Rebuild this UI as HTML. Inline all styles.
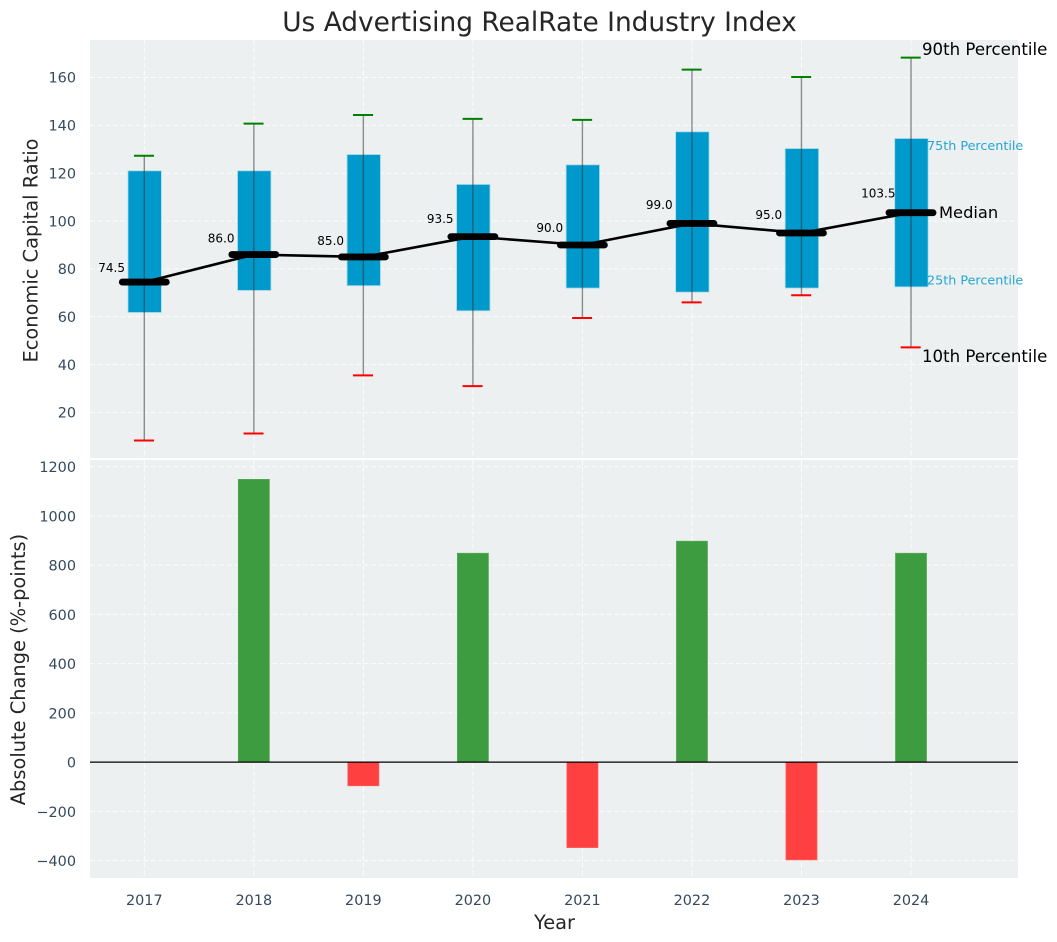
<!DOCTYPE html>
<html>
<head>
<meta charset="utf-8">
<title>Us Advertising RealRate Industry Index</title>
<style>
html,body{margin:0;padding:0;background:#fff;}
svg{display:block;font-family:"DejaVu Sans","Liberation Sans",sans-serif;}
</style>
</head>
<body>
<svg id="chart" width="1057" height="942" viewBox="0 0 1057 942" xmlns="http://www.w3.org/2000/svg">
  <rect x="90" y="40" width="928" height="418" fill="#ecf0f1"/>
  <rect x="90" y="460" width="928" height="418" fill="#ecf0f1"/>
  <g id="grid"></g>
  <g id="marks-bottom"></g>
  <g id="marks-top"></g>
  <g id="labels"></g>
  <text x="539.5" y="31" font-size="26.4px" fill="#262626" text-anchor="middle">Us Advertising RealRate Industry Index</text>
  <text transform="translate(37.5,250.5) rotate(-90)" font-size="19.4px" fill="#262626" text-anchor="middle">Economic Capital Ratio</text>
  <text transform="translate(25,669.5) rotate(-90)" font-size="19.4px" fill="#262626" text-anchor="middle">Absolute Change (%-points)</text>
  <text x="554.5" y="929" font-size="19.4px" fill="#262626" text-anchor="middle">Year</text>
  <text x="922" y="55" font-size="16.6px" fill="#000">90th Percentile</text>
  <text x="927" y="150" font-size="12.75px" fill="#0099cc" fill-opacity="0.85">75th Percentile</text>
  <text x="939" y="218" font-size="16.3px" fill="#000">Median</text>
  <text x="927" y="284.5" font-size="12.75px" fill="#0099cc" fill-opacity="0.85">25th Percentile</text>
  <text x="922" y="362" font-size="16.6px" fill="#000">10th Percentile</text>
</svg>
<script>
const years = [2017, 2018, 2019, 2020, 2021, 2022, 2023, 2024];
const p90 = [127.3, 140.7, 144.3, 142.7, 142.3, 163.3, 160.2, 168.3];
const p75 = [121, 121, 127.8, 115.3, 123.5, 137.3, 130.3, 134.5];
const medians = [74.5, 86, 85, 93.5, 90, 99, 95, 103.5];
const p25 = [61.8, 71, 73, 62.5, 72, 70.3, 72, 72.5];
const p10 = [8.3, 11.2, 35.5, 31, 59.5, 66, 69, 47.2];
const changes = [0, 1148, -96, 848, -347, 897, -397, 848];
const topTicks = [20, 40, 60, 80, 100, 120, 140, 160];
const bottomTicks = [-400, -200, 0, 200, 400, 600, 800, 1000, 1200];

const NS = 'http://www.w3.org/2000/svg';
const xScale = function (year) { return 144.3 + (year - 2017) * 109.53; };
const yTop = function (v) { return 412.5 - (v - 20) * 2.393; };
const yBottom = function (v) { return 762.1 - v * 0.24625; };

function make(parent, tag, attrs, name) {
  const el = document.createElementNS(NS, tag);
  for (const k in attrs) el.setAttribute(k, attrs[k]);
  
  
  parent.appendChild(el);
  return el;
}

const grid = document.getElementById('grid');
const marksTop = document.getElementById('marks-top');
const marksBottom = document.getElementById('marks-bottom');
const labels = document.getElementById('labels');
const gridStyle = { stroke: '#ffffff', 'stroke-width': 1, 'stroke-dasharray': '5 2.6', 'stroke-opacity': 0.85 };

topTicks.forEach(function (t) {
  const y = yTop(t);
  make(grid, 'line', Object.assign({ x1: 90, x2: 1018, y1: y, y2: y }, gridStyle), 'top-grid-line-' + t);
  const tx = make(labels, 'text', { x: 76, y: y + 5.2, 'font-size': '14.4px', fill: '#34495e', 'text-anchor': 'end' }, 'top-y-tick-' + t);
  tx.textContent = String(t);
});

bottomTicks.forEach(function (t) {
  const y = yBottom(t);
  make(grid, 'line', Object.assign({ x1: 90, x2: 1018, y1: y, y2: y }, gridStyle), 'bottom-grid-line-' + t);
  const tx = make(labels, 'text', { x: 76, y: y + 5.6, 'font-size': '14.4px', fill: '#34495e', 'text-anchor': 'end' }, 'bottom-y-tick-' + t);
  tx.textContent = String(t).replace('-', '\u2212');
});

years.forEach(function (yr) {
  const x = xScale(yr);
  make(grid, 'line', Object.assign({ x1: x, x2: x, y1: 40, y2: 458 }, gridStyle), 'top-grid-vertical-' + yr);
  make(grid, 'line', Object.assign({ x1: x, x2: x, y1: 460, y2: 878 }, gridStyle), 'bottom-grid-vertical-' + yr);
  const tx = make(labels, 'text', { x: x, y: 905, 'font-size': '14.4px', fill: '#34495e', 'text-anchor': 'middle' }, 'x-tick-' + yr);
  tx.textContent = String(yr);
});

years.forEach(function (yr, i) {
  const x = xScale(yr);
  const v = changes[i];
  if (v !== 0) {
    const y0 = yBottom(0);
    const y1 = yBottom(v);
    make(marksBottom, 'rect', {
      x: x - 15.5, y: Math.min(y0, y1), width: 31, height: Math.abs(y1 - y0),
      fill: v > 0 ? '#3d9c3f' : '#ff4040', stroke: v > 0 ? '#55a957' : '#ff5a5a', 'stroke-width': 0.8
    }, 'change-bar-' + yr);
  }
});
make(marksBottom, 'line', { x1: 90, x2: 1018, y1: yBottom(0), y2: yBottom(0), stroke: '#000', 'stroke-width': 1.3 }, 'zero-line');

years.forEach(function (yr, i) {
  const x = xScale(yr);
  make(marksTop, 'rect', {
    x: x - 16.3, y: yTop(p75[i]), width: 33.4, height: yTop(p25[i]) - yTop(p75[i]),
    fill: '#0099cc', stroke: '#a8d9ea', 'stroke-width': 0.8
  }, 'iqr-box-' + yr);
  make(marksTop, 'line', { x1: x, x2: x, y1: yTop(p90[i]), y2: yTop(p10[i]), stroke: '#333', 'stroke-opacity': 0.55, 'stroke-width': 1.4 }, 'whisker-' + yr);
  make(marksTop, 'line', { x1: x - 10.3, x2: x + 9.7, y1: yTop(p90[i]), y2: yTop(p90[i]), stroke: '#008000', 'stroke-width': 2 }, 'cap-90th-' + yr);
  make(marksTop, 'line', { x1: x - 10.3, x2: x + 9.7, y1: yTop(p10[i]), y2: yTop(p10[i]), stroke: '#ff0000', 'stroke-width': 2 }, 'cap-10th-' + yr);
});

const linePoints = years.map(function (yr, i) { return xScale(yr) + ',' + yTop(medians[i]); }).join(' ');
make(marksTop, 'polyline', { points: linePoints, fill: 'none', stroke: '#000', 'stroke-width': 2.6 }, 'median-trend-line');

years.forEach(function (yr, i) {
  const x = xScale(yr);
  const y = yTop(medians[i]);
  make(marksTop, 'line', { x1: x - 22, x2: x + 22, y1: y, y2: y, stroke: '#000', 'stroke-width': 6.8, 'stroke-linecap': 'round' }, 'median-bar-' + yr);
  const tx = make(marksTop, 'text', { x: x - 32.7, y: yTop(medians[i] * 1.08) + 4.4, 'font-size': '12px', fill: '#000', 'text-anchor': 'middle' }, 'median-label-' + yr);
  tx.textContent = medians[i].toFixed(1);
});
</script>
</body>
</html>
